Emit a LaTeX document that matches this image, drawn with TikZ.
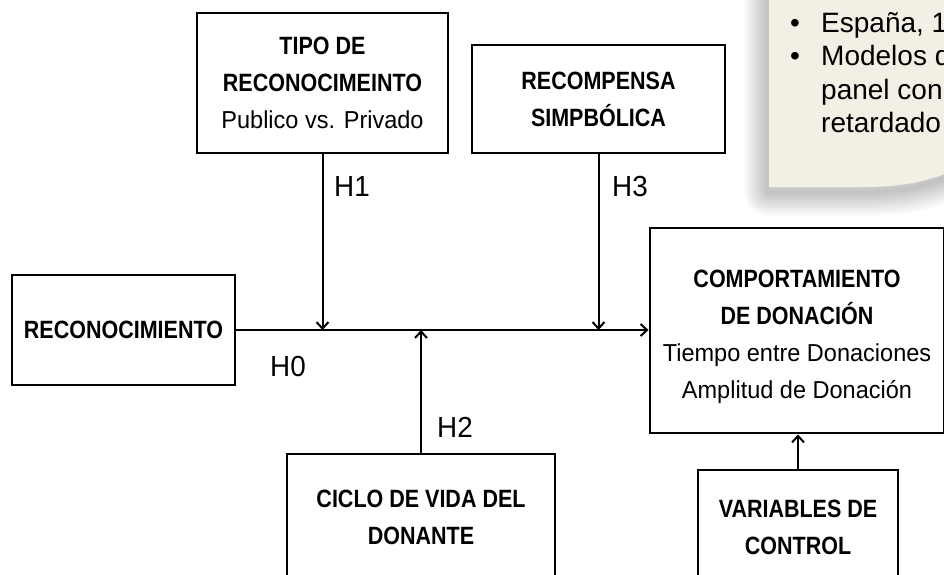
\documentclass[tikz,border=0pt]{standalone}
\usepackage{fontspec}
\setmainfont{Liberation Sans}
\newfontfamily\condf{Liberation Sans}[FakeStretch=0.86]
\newfontfamily\regf{Liberation Sans}[FakeStretch=0.96]
\usetikzlibrary{arrows.meta}
\definecolor{notebg}{HTML}{F2EFE5}
\newcommand\HB[1]{{\condf\bfseries\fontsize{25}{37}\selectfont #1}}
\begin{document}
\begin{tikzpicture}[x=1pt,y=-1pt,
  box/.style={draw=black, line width=2.9pt, inner sep=0pt, align=center,
    text=black, font=\regf\fontsize{24.5}{37}\selectfont},
  link/.style={line width=2pt, draw=black, -{Straight Barb[length=6.5pt,width=12pt]}},
  hlab/.style={font=\regf\fontsize{29}{29}\selectfont, inner sep=0pt, text=black},
  notetxt/.style={font=\fontsize{28}{28}\selectfont, inner sep=0pt, anchor=base west, text=black},
  bul/.style={font=\fontsize{28}{28}\selectfont, inner sep=0pt, anchor=base, text=black}]
\useasboundingbox (0,0) rectangle (944,574);
\clip (0,0) rectangle (944,574);
\fill[white] (0,0) rectangle (944,574);

% sticky note with shadow
\def\notepath{(769,-30) -- (769,187) -- (860,187) .. controls (905,187) and (928,182) .. (970,164) -- (970,-30) -- cycle}
\foreach \w in {4,8,...,48}
  \draw[line width=\w pt, black, opacity=0.018, line join=round, shift={(-1,5)}] \notepath;
\fill[notebg] \notepath;
\node[bul] (b1) at (795,32) {•};
\node[notetxt] (n1) at (821,32) {España, 1};
\node[bul] (b2) at (795,65.5) {•};
\node[notetxt] (n2) at (821,65.5) {Modelos d};
\node[notetxt] (n3) at (821,99) {panel con};
\node[notetxt] (n4) at (821,132.5) {retardado};

% boxes
\node[box, minimum width=251pt, minimum height=140pt] (tipo) at (322.5,83)
  {\HB{TIPO DE}\\\HB{RECONOCIMEINTO}\\Publico vs. Privado};
\node[box, minimum width=253pt, minimum height=108pt] (recomp) at (598.5,99)
  {\HB{RECOMPENSA}\\\HB{SIMPBÓLICA}};
\node[box, minimum width=223pt, minimum height=110pt] (recon) at (123.5,330)
  {\HB{RECONOCIMIENTO}};
\node[box, minimum width=294pt, minimum height=205pt] (comp) at (797,330.5)
  {\rule{0pt}{30pt}\HB{COMPORTAMIENTO}\\\HB{DE DONACIÓN}\\Tiempo entre Donaciones\\Amplitud de Donación};
\node[box, minimum width=268pt, minimum height=127pt] (ciclo) at (421,517.5)
  {\HB{CICLO DE VIDA DEL}\\\HB{DONANTE}};
\node[box, minimum width=200pt, minimum height=115pt] (vars) at (798,527.5)
  {\HB{VARIABLES DE}\\\HB{CONTROL}};

% connectors
\coordinate (j1) at (tipo.south |- recon.east);
\coordinate (j3) at (recomp.south |- recon.east);
\coordinate (j2) at (ciclo.north |- recon.east);
\draw[link] (recon.east) -- (recon.east -| comp.west);
\draw[link] (tipo.south) -- (j1);
\draw[link] (recomp.south) -- (j3);
\draw[link] (ciclo.north) -- (j2);
\draw[link] (vars.north) -- (vars.north |- comp.south);

% labels
\node[hlab] (h1) at (352,187) {H1};
\node[hlab] (h3) at (630,187) {H3};
\node[hlab] (h0) at (288,367) {H0};
\node[hlab] (h2) at (455,427) {H2};
\end{tikzpicture}
\end{document}
